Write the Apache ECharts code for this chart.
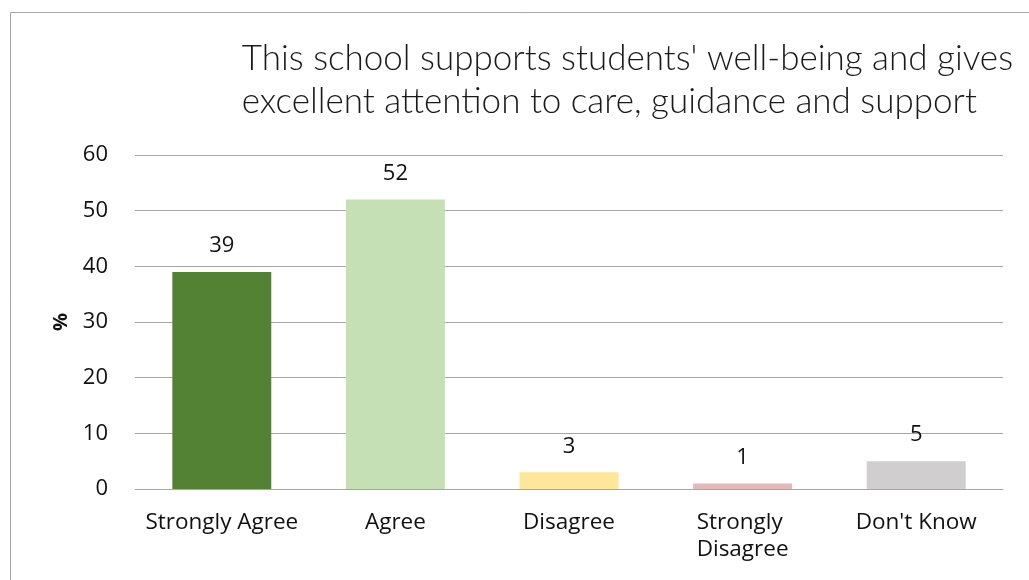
<!DOCTYPE html>
<html>
<head>
    <meta charset="utf-8">
    <title>Well-being survey</title>
    <script src="https://cdn.jsdelivr.net/npm/echarts@6/dist/echarts.min.js"></script>
    <style>
        html, body { margin: 0; padding: 0; background: #fff; }
    </style>
</head>
<body>
<div id="main" style="width: 1029px;height:580px;"></div>
<script type="text/javascript">
    // data
    var categories = ['Strongly Agree', 'Agree', 'Disagree', 'Strongly Disagree', "Don't Know"];
    var values = [39, 52, 3, 1, 5];
    var barColors = ['#548235', '#C5E0B4', '#FFE699', '#E6B9B8', '#D0CECE'];
    var yTicks = { min: 0, max: 60, interval: 10 };

    var myChart = echarts.init(document.getElementById('main'));

    var option = {
        animation: false,
        title: {
            text: "This school supports students' well-being and gives\nexcellent attention to care, guidance and support",
            right: 11,
            top: 32,
            textStyle: {
                fontFamily: 'Lato',
                fontWeight: 300,
                fontSize: 35,
                lineHeight: 43,
                color: '#1a1a1a',
                align: 'right'
            }
        },
        graphic: [{
            type: 'rect',
            shape: { x: 10.5, y: 12.5, width: 1040, height: 600 },
            style: { fill: 'none', stroke: '#a6a6a6', lineWidth: 1 },
            silent: true
        }],
        grid: {
            left: 135,
            right: 26,
            top: 155,
            bottom: 91
        },
        xAxis: {
            type: 'category',
            data: categories,
            axisTick: { show: false },
            axisLine: { lineStyle: { color: '#a6a6a6', width: 1 } },
            axisLabel: {
                interval: 0,
                margin: 20,
                width: 168,
                overflow: 'break',
                lineHeight: 27,
                fontFamily: 'Open Sans',
                fontSize: 22.5,
                color: '#111'
            }
        },
        yAxis: {
            type: 'value',
            min: yTicks.min,
            max: yTicks.max,
            interval: yTicks.interval,
            name: '%',
            nameLocation: 'middle',
            nameGap: 64,
            nameRotate: 90,
            nameTextStyle: {
                fontFamily: 'Open Sans',
                fontWeight: 'bold',
                fontSize: 20,
                color: '#111'
            },
            axisLine: { show: false },
            axisTick: { show: false },
            axisLabel: {
                margin: 27,
                fontFamily: 'Open Sans',
                fontSize: 22,
                color: '#111'
            },
            splitLine: { lineStyle: { color: '#a6a6a6', width: 1 } }
        },
        series: [{
            type: 'bar',
            barWidth: '57%',
            data: values.map(function (v, i) {
                return { value: v, itemStyle: { color: barColors[i] } };
            }),
            label: {
                show: true,
                position: 'top',
                distance: 15,
                fontFamily: 'Open Sans',
                fontSize: 22,
                color: '#111'
            }
        }]
    };

    myChart.setOption(option);
</script>
</body>
</html>
